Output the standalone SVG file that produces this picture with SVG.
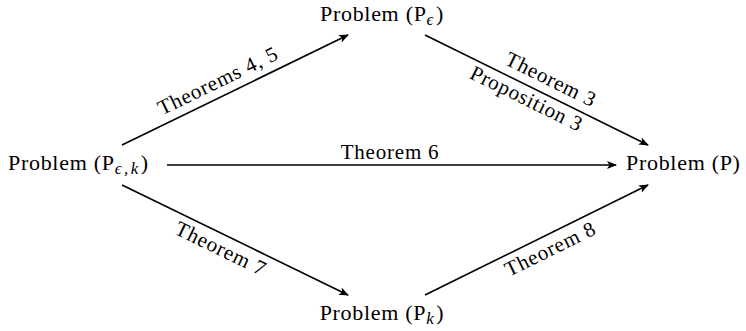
<svg xmlns="http://www.w3.org/2000/svg" width="746" height="331" viewBox="0 0 746 331">
<style>
text{font-family:'Liberation Serif','DejaVu Serif',serif;font-size:22px;letter-spacing:0.7px;fill:#000}
.sub{font-size:17px;font-style:italic;letter-spacing:2.5px}
.lbl{font-size:21px;letter-spacing:0.8px}
line{stroke:#000;stroke-width:1.6}
</style>
<defs>
<marker id="ah" viewBox="0 0 10 8" refX="9" refY="4" markerWidth="10" markerHeight="8" markerUnits="userSpaceOnUse" orient="auto">
<path d="M0,0 L10,4 L0,8 L2.5,4 Z" fill="#000"/>
</marker>
</defs>
<rect width="746" height="331" fill="#fff"/>
<g id="n-Pek"><text x="8" y="170">Problem (P<tspan class="sub" dy="4">ϵ,k</tspan><tspan dy="-4">)</tspan></text></g>
<g id="n-Pe"><text x="382" y="21" text-anchor="middle">Problem (P<tspan class="sub" dy="4">ϵ</tspan><tspan dy="-4">)</tspan></text></g>
<g id="n-Pk"><text x="382" y="320" text-anchor="middle">Problem (P<tspan class="sub" dy="4">k</tspan><tspan dy="-4">)</tspan></text></g>
<g id="n-P"><text x="626" y="170">Problem (P)</text></g>
<g id="connectors">
<line x1="122" y1="145" x2="348" y2="35" marker-end="url(#ah)"/>
<line x1="425" y1="35" x2="648" y2="145" marker-end="url(#ah)"/>
<line x1="167" y1="165" x2="616" y2="165" marker-end="url(#ah)"/>
<line x1="122" y1="185" x2="348" y2="295" marker-end="url(#ah)"/>
<line x1="425" y1="295" x2="648" y2="185" marker-end="url(#ah)"/>
<text class="lbl" text-anchor="middle" transform="translate(225,95) rotate(-25.95)" y="-9">Theorems 4, 5</text>
<text class="lbl" text-anchor="middle" transform="translate(544,93.7) rotate(26.26)" y="-9">Theorem 3</text>
<text class="lbl" text-anchor="middle" transform="translate(532,87.8) rotate(26.26)" y="19">Proposition 3</text>
<text class="lbl" text-anchor="middle" x="390" y="159">Theorem 6</text>
<text class="lbl" text-anchor="middle" transform="translate(227,236) rotate(25.95)" y="21">Theorem 7</text>
<text class="lbl" text-anchor="middle" transform="translate(544,236.3) rotate(-26.26)" y="21">Theorem 8</text>
</g>
</svg>
